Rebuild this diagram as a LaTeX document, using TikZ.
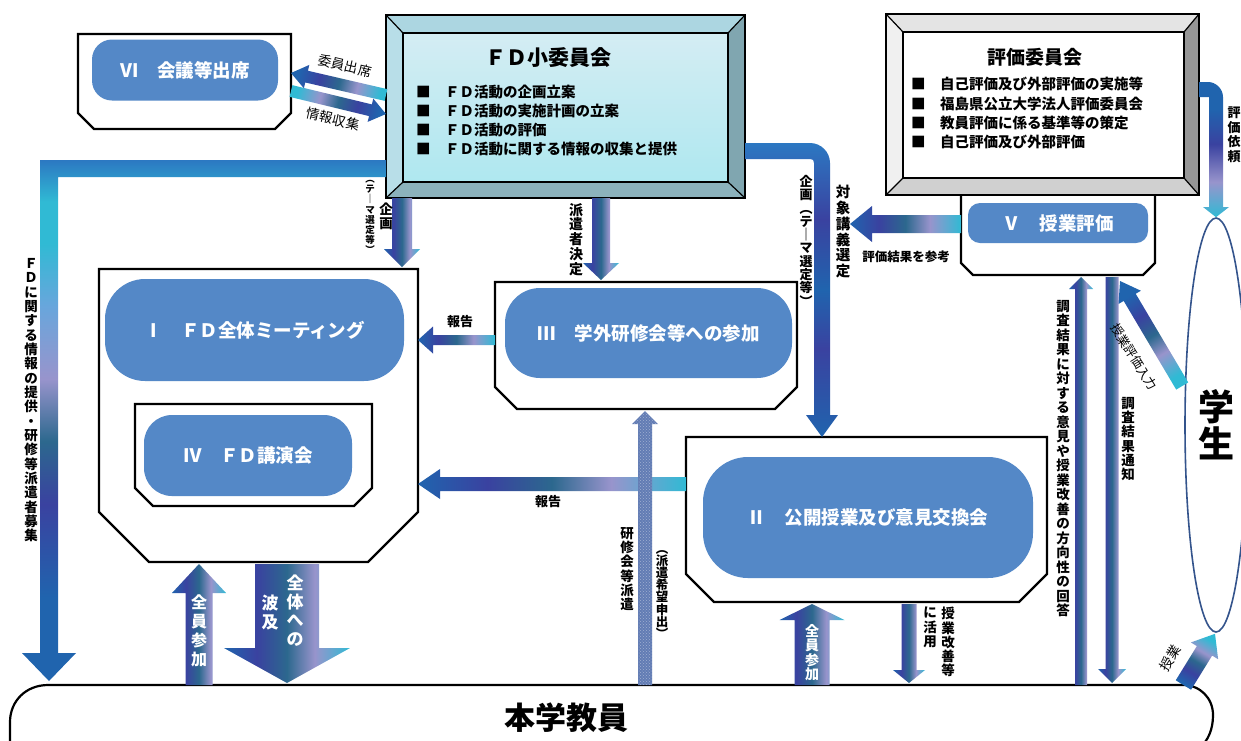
\documentclass[tikz,border=0pt]{standalone}
\usepackage{fontspec}
\newfontfamily\jp{Noto Sans CJK JP}
\usetikzlibrary{calc,patterns,shapes.geometric}

\definecolor{boxblue}{RGB}{84,136,199}
\definecolor{gb}{RGB}{32,100,174}
\definecolor{gi}{RGB}{58,66,160}
\definecolor{gt}{RGB}{44,104,142}
\definecolor{gl}{RGB}{152,148,204}
\definecolor{gc}{RGB}{48,186,212}
\definecolor{glb}{RGB}{104,166,220}
\definecolor{gb2}{RGB}{44,120,194}
\definecolor{denim}{RGB}{98,124,180}
\definecolor{fdin}{RGB}{194,229,238}
\definecolor{fdtop}{RGB}{172,214,225}
\definecolor{fdleft}{RGB}{184,222,232}
\definecolor{fdright}{RGB}{128,166,176}
\definecolor{fdbot}{RGB}{140,178,188}
\definecolor{hytop}{RGB}{228,228,228}
\definecolor{hyleft}{RGB}{240,240,240}
\definecolor{hyright}{RGB}{150,150,150}
\definecolor{hybot}{RGB}{208,208,208}
\definecolor{stuline}{RGB}{52,84,140}

\pgfdeclarehorizontalshading{gAcross}{100bp}{color(0bp)=(gb); color(25bp)=(gb); color(38bp)=(gi); color(50bp)=(gt); color(61bp)=(gl); color(75bp)=(gc); color(100bp)=(gc)}
\pgfdeclareverticalshading{gFD}{100bp}{color(0bp)=(gb); color(25bp)=(gb); color(33bp)=(gb); color(42bp)=(gi); color(48bp)=(gt); color(54bp)=(gl); color(61bp)=(glb); color(67bp)=(gc); color(71bp)=(gc); color(75bp)=(gb2); color(100bp)=(gb2)}
\pgfdeclareverticalshading{gDeep}{100bp}{color(0bp)=(gb); color(25bp)=(gb); color(40bp)=(gi); color(50bp)=(gb); color(62bp)=(gi); color(75bp)=(gb2); color(100bp)=(gb2)}
\pgfdeclareverticalshading{gReq}{100bp}{color(0bp)=(gc); color(25bp)=(gc); color(38bp)=(gl); color(52bp)=(gi); color(65bp)=(gb); color(75bp)=(gb); color(100bp)=(gb)}

\makeatletter
\def\vt#1{\vt@a#1\vt@end}
\def\vt@a#1{#1\vt@b}
\def\vt@b#1{\ifx\vt@end#1\else\\#1\expandafter\vt@b\fi}
\def\vt@end{\vt@end}
\makeatother

% block arrow: [style]{(A)}{(B)}{shaft half}{head half}{head length}
\newcommand\blockarrow[6][]{%
  \coordinate (baA) at #2;
  \coordinate (baB) at #3;
  \coordinate (baH) at ($(baB)!#6pt!(baA)$);
  \path[#1] ($(baA)!#4pt!90:(baB)$) -- ($(baH)!#4pt!90:(baB)$) -- ($(baH)!#5pt!90:(baB)$) -- (baB)
     -- ($(baH)!#5pt!-90:(baB)$) -- ($(baH)!#4pt!-90:(baB)$) -- ($(baA)!#4pt!-90:(baB)$) -- cycle;
}
% chamfered box: name, x1, y1, x2, y2, cut
\newcommand\chbox[6]{%
  \node[inner sep=0pt, outer sep=0pt, minimum width={#4-#2}, minimum height={#5-#3}, anchor=north west] (#1) at (#2,#3) {};
  \draw[boxline] (#1.north west) -- (#1.north east) -- ([yshift=#6pt]#1.south east) -- ([xshift=-#6pt]#1.south east)
     -- ([xshift=#6pt]#1.south west) -- ([yshift=#6pt]#1.south west) -- cycle;
}

\begin{document}
\begin{tikzpicture}[x=1pt,y=-1pt,
  boxline/.style={draw=black, line width=2.2pt, fill=white, line join=miter},
  bluebox/.style={fill=boxblue, rounded corners=#1, inner sep=0pt, text=white, font=\jp\bfseries\fontsize{18.5}{20}\selectfont},
  garr/.style={shade, shading=gAcross, shading angle=#1},
  lab/.style={inner sep=0pt, font=\jp\bfseries\fontsize{13}{14}\selectfont},
  labr/.style={inner sep=0pt, font=\jp\fontsize{13.5}{14}\selectfont},
  vlab/.style 2 args={inner sep=0pt, anchor=north, align=center, font=\jp\bfseries\fontsize{#1}{#2}\selectfont},
  item/.style={anchor=west, inner sep=0pt, font=\jp\bfseries\fontsize{14.5}{16}\selectfont}]
\useasboundingbox (0,0) rectangle (1241,740);
\fill[white] (0,0) rectangle (1241,740);

% ---------- 本学教員 ----------
\node[inner sep=0pt, minimum width=1203pt, minimum height=75pt, anchor=north west] (staff) at (10,685) {};
\draw[boxline] (10,760) -- (10,722) .. controls (10,701) and (26,685) .. (48,685) -- (1183,685)
   .. controls (1200,685) and (1213,698) .. (1213,715) .. controls (1213,730) and (1208,740) .. (1200,748);
\node[font=\jp\bfseries\fontsize{31}{33}\selectfont, inner sep=0pt] (stafft) at (566,718) {本学教員};

% ---------- 学生 ----------
\node[ellipse, draw=stuline, line width=1.6pt, fill=white, minimum width=62pt, minimum height=414pt, inner sep=0pt,
      align=center, font=\jp\bfseries\fontsize{36}{37}\selectfont] (stu) at (1216,425) {\vt{学生}};

% ---------- VI ----------
\chbox{vi}{78}{34}{291}{129}{16}
\node[bluebox=20pt, minimum width=186pt, minimum height=61pt] (vil) at (185,70) {Ⅵ　会議等出席};

% ---------- FD小委員会 ----------
\node[inner sep=0pt, outer sep=0pt, minimum width=359pt, minimum height=183pt, anchor=north west] (fd) at (386,15) {};
\coordinate (fdinw) at (403,33); \coordinate (fdine) at (728,33);
\coordinate (fdisw) at (403,182); \coordinate (fdise) at (728,182);
\fill[fdtop] (fd.north west) -- (fd.north east) -- (fdine) -- (fdinw) -- cycle;
\fill[fdright] (fd.north east) -- (fd.south east) -- (fdise) -- (fdine) -- cycle;
\fill[fdbot] (fd.south west) -- (fd.south east) -- (fdise) -- (fdisw) -- cycle;
\fill[fdleft] (fd.north west) -- (fd.south west) -- (fdisw) -- (fdinw) -- cycle;
\shade[top color=fdin!70!white, bottom color=fdin!90!cyan] (fdinw) rectangle (fdise);
\draw[line width=2pt] (fd.north west) rectangle (fd.south east);
\draw[line width=2pt] (fdinw) rectangle (fdise);
\draw[line width=1.2pt] (fd.north west) -- (fdinw) (fd.north east) -- (fdine) (fd.south east) -- (fdise) (fd.south west) -- (fdisw);
\node[inner sep=0pt, font=\jp\bfseries\fontsize{21}{23}\selectfont] (fdt) at (548,58) {ＦＤ小委員会};
\node[item] (fd1) at (416,92) {■　ＦＤ活動の企画立案};
\node[item] (fd2) at (416,111) {■　ＦＤ活動の実施計画の立案};
\node[item] (fd3) at (416,130) {■　ＦＤ活動の評価};
\node[item] (fd4) at (416,149) {■　ＦＤ活動に関する情報の収集と提供};

% ---------- V 授業評価 ----------
\chbox{v}{961}{190}{1155}{275}{12}
\node[bluebox=12pt, minimum width=180pt, minimum height=40pt] (vl) at (1058,223) {Ⅴ　授業評価};

% ---------- 評価委員会 ----------
\node[inner sep=0pt, outer sep=0pt, minimum width=313pt, minimum height=181pt, anchor=north west] (hy) at (886,14) {};
\coordinate (hyinw) at (903,32); \coordinate (hyine) at (1184,32);
\coordinate (hyisw) at (903,178); \coordinate (hyise) at (1184,178);
\fill[hytop] (hy.north west) -- (hy.north east) -- (hyine) -- (hyinw) -- cycle;
\fill[hyright] (hy.north east) -- (hy.south east) -- (hyise) -- (hyine) -- cycle;
\fill[hybot] (hy.south west) -- (hy.south east) -- (hyise) -- (hyisw) -- cycle;
\fill[hyleft] (hy.north west) -- (hy.south west) -- (hyisw) -- (hyinw) -- cycle;
\fill[white] (hyinw) rectangle (hyise);
\draw[line width=2pt] (hy.north west) rectangle (hy.south east);
\draw[line width=2pt] (hyinw) rectangle (hyise);
\draw[line width=1.2pt] (hy.north west) -- (hyinw) (hy.north east) -- (hyine) (hy.south east) -- (hyise) (hy.south west) -- (hyisw);
\node[inner sep=0pt, font=\jp\bfseries\fontsize{19}{21}\selectfont] (hyt) at (1035,57) {評価委員会};
\node[item] (hy1) at (911,84) {■　自己評価及び外部評価の実施等};
\node[item] (hy2) at (911,104) {■　福島県公立大学法人評価委員会};
\node[item] (hy3) at (911,123) {■　教員評価に係る基準等の策定};
\node[item] (hy4) at (911,142) {■　自己評価及び外部評価};

% ---------- I / IV ----------
\chbox{I}{99}{269}{418}{562}{50}
\node[bluebox=40pt, minimum width=299pt, minimum height=102pt] (Il) at (254.5,330) {Ⅰ　ＦＤ全体ミーティング};
\chbox{IV}{135}{404}{372}{506}{18}
\node[bluebox=28pt, minimum width=208pt, minimum height=81pt] (IVl) at (248,455.5) {Ⅳ　ＦＤ講演会};

% ---------- III ----------
\chbox{III}{495}{282}{797}{409}{22}
\node[bluebox=35pt, minimum width=287pt, minimum height=90pt] (IIIl) at (648.5,333) {Ⅲ　学外研修会等への参加};

% ---------- II ----------
\chbox{II}{686}{437}{1047}{602}{28}
\node[bluebox=45pt, minimum width=330pt, minimum height=121pt] (IIl) at (868,517.5) {Ⅱ　公開授業及び意見交換会};

% ---------- arrows ----------
% FD -> 本学教員 (left big L arrow)
\shade[shading=gFD] ([yshift=-145pt]fd.north west) -- (40,160) -- (40,653) -- (22,653) -- ([xshift=39pt,yshift=4pt]staff.north west)
   -- (76,653) -- (58,653) -- (58,177) -- ([yshift=-162pt]fd.north west) -- cycle;
% FD -> II (curved)
\shade[shading=gDeep] ([yshift=-128pt]fd.north east) -- (810,143) .. controls (821,143) and (830,152) .. (830,163) -- (830,415)
   -- (838,415) -- ([xshift=136pt]II.north west) -- (806,415) -- (814,415) -- (814,163)
   .. controls (814,160) and (813,159) .. (810,159) -- ([yshift=-144pt]fd.north east) -- cycle;
% 評価委員会 -> 学生 (評価依頼)
\shade[shading=gReq] ([yshift=-68pt]hy.north east) -- (1208,82) .. controls (1216,82) and (1223,89) .. (1223,97) -- (1223,207)
   -- (1229,207) -- (stu.north) -- (1203,207) -- (1209,207) -- (1209,97) -- ([yshift=-83pt]hy.north east) -- cycle;

% 委員出席 / 情報収集
\blockarrow[garr=-13]{([yshift=-80pt]fd.north west)}{([yshift=-39pt]vi.north east)}{6}{12}{16}
\blockarrow[garr=166]{([yshift=-57pt]vi.north east)}{([yshift=-99pt]fd.north west)}{6}{12}{16}
% 企画 (FD -> I)
\blockarrow[garr=0]{([xshift=16pt]fd.south west)}{([xshift=303pt,yshift=2pt]I.north west)}{10}{18}{18}
% 派遣者決定 (FD -> III)
\blockarrow[garr=0]{([xshift=215pt]fd.south west)}{([xshift=106pt,yshift=2pt]III.north west)}{9}{18}{17}
% 報告 (III -> I)
\blockarrow[garr=0]{([yshift=-58pt]III.north west)}{([yshift=-71pt]I.north east)}{5}{13.5}{15}
% 報告 (II -> I)
\blockarrow[garr=0]{([yshift=-47pt]II.north west)}{([yshift=-215pt]I.north east)}{7}{15}{22}
% 研修会等派遣 (本学教員 -> III)
\blockarrow[fill=denim, postaction={pattern=crosshatch dots, pattern color=white!40!denim}]{([xshift=635pt]staff.north west)}{([xshift=150pt,yshift=-2pt]III.south west)}{7}{13}{13}
% 全員参加 (本学教員 -> I)
\blockarrow[garr=0]{([xshift=189pt]staff.north west)}{([xshift=100pt,yshift=-2pt]I.south west)}{13.5}{27}{29}
% 全体への波及 (I -> 本学教員)
\blockarrow[garr=0]{([xshift=188pt,yshift=-2pt]I.south west)}{([xshift=277pt,yshift=2pt]staff.north west)}{32}{63}{35}
% 全員参加 (本学教員 -> II)
\blockarrow[garr=0]{([xshift=802pt]staff.north west)}{([xshift=126pt,yshift=-2pt]II.south west)}{17.5}{32.5}{16}
% 授業改善等に活用 (II -> 本学教員)
\blockarrow[garr=0]{([xshift=223pt,yshift=-2pt]II.south west)}{([xshift=899pt,yshift=2pt]staff.north west)}{7.5}{16}{13}
% 回答 (本学教員 -> V)
\blockarrow[garr=0]{([xshift=1071pt]staff.north west)}{([xshift=120pt,yshift=-2pt]v.south west)}{6}{12}{12}
% 調査結果通知 (V -> 本学教員)
\blockarrow[garr=0]{([xshift=151pt,yshift=-2pt]v.south west)}{([xshift=1102pt,yshift=2pt]staff.north west)}{6.5}{14}{14}
% 評価結果を参考 (V -> left)
\coordinate (refend) at (850,224);
\blockarrow[garr=0]{([yshift=-34pt]v.north west)}{(refend)}{9}{18}{22}
% 授業評価入力 (学生 -> V)
\blockarrow[garr=-58]{([xshift=-2pt,yshift=39pt]stu.west)}{([xshift=-35pt,yshift=-6pt]v.south east)}{7}{13}{19}
% 授業 (本学教員 -> 学生)
\blockarrow[garr=59]{([xshift=-30pt]staff.north east)}{([xshift=-1pt,yshift=-1pt]stu.south)}{9}{16}{20}

% ---------- labels ----------
\node[labr, rotate=-13] (l_iin) at (345,66) {委員出席};
\node[labr, rotate=-13] (l_jou) at (333,119) {情報収集};
\node[lab] (l_hou1) at (460,322) {報告};
\node[lab] (l_hou2) at (548,502) {報告};
\node[lab, font=\jp\bfseries\fontsize{12.5}{14}\selectfont] (l_ref) at (906,257) {評価結果を参考};
\node[labr, rotate=-58, font=\jp\fontsize{12.5}{14}\selectfont] (l_nyu) at (1134,357) {授業評価入力};
\node[labr, rotate=58] (l_jug) at (1170,658) {授業};

\node[vlab={13.5}{14.35}] (v_fd) at (31,258) {\vt{ＦＤに関する情報の提供・研修等派遣者募集}};
\node[vlab={13.5}{14}] (v_kik1) at (386,203) {\vt{企画}};
\node[vlab={9.5}{10.2}] (v_th1) at (370,180) {\vt{︵テ｜マ選定等︶}};
\node[vlab={14}{14.8}] (v_hak) at (576,203) {\vt{派遣者決定}};
\node[vlab={13}{13.3}] (v_kik2) at (806,175) {\vt{企画︵テ｜マ選定等︶}};
\node[vlab={14.5}{15.8}] (v_tai) at (843,185) {\vt{対象講義選定}};
\node[vlab={13}{14.5}] (v_irai) at (1234,107) {\vt{評価依頼}};
\node[vlab={13.5}{14.5}] (v_kai) at (1063,300) {\vt{調査結果に対する意見や授業改善の方向性の回答}};
\node[vlab={13.5}{14.3}] (v_tsu) at (1128,397) {\vt{調査結果通知}};
\node[vlab={13.5}{14.3}] (v_ken) at (627,527) {\vt{研修会等派遣}};
\node[vlab={12.5}{12.2}] (v_kib) at (662,550) {\vt{︵派遣希望申出︶}};
\node[vlab={16}{18.7}, text=white] (v_zen1) at (199,595) {\vt{全員参加}};
\node[vlab={17}{18.5}, text=white] (v_zt1) at (295,575) {\vt{全体への}};
\node[vlab={17}{18.5}, text=white] (v_zt2) at (270,595) {\vt{波及}};
\node[vlab={14}{14.5}, text=white] (v_zen2) at (812,624) {\vt{全員参加}};
\node[vlab={13.5}{14.3}] (v_kz1) at (948,607) {\vt{授業改善等}};
\node[vlab={13.5}{14.3}] (v_kz2) at (930,607) {\vt{に活用}};
\end{tikzpicture}
\end{document}
